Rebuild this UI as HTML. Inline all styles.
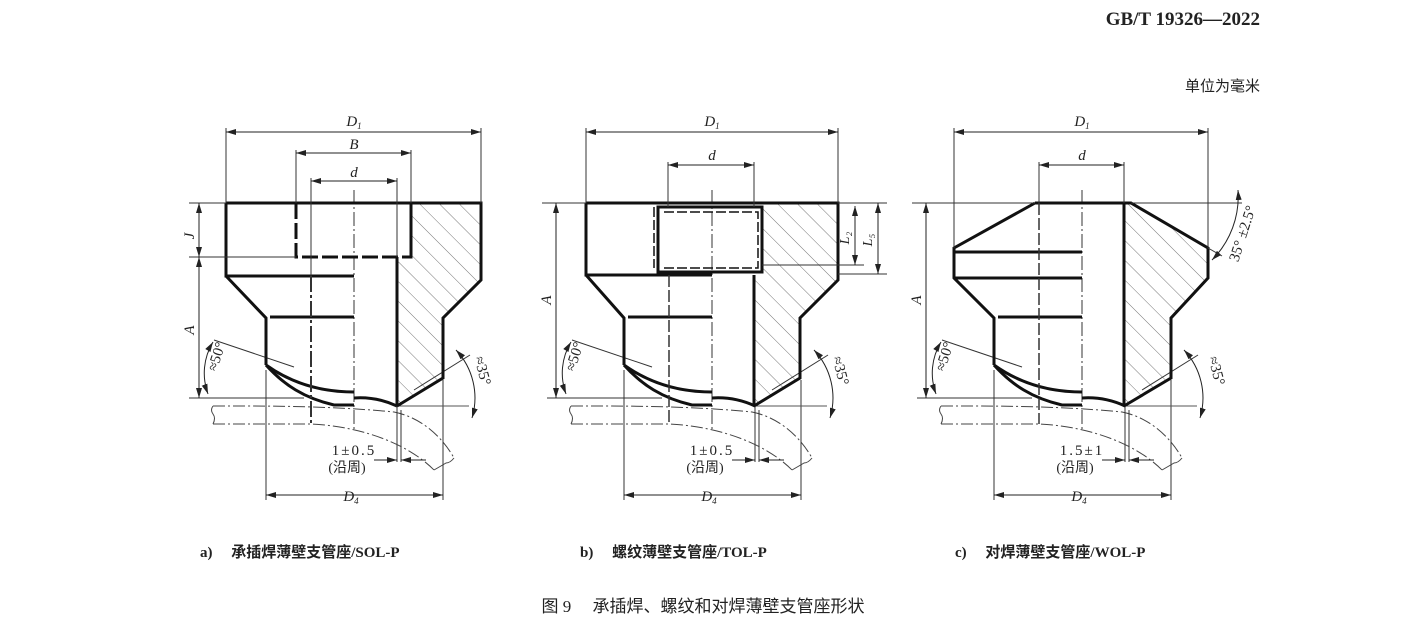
<!DOCTYPE html>
<html><head><meta charset="utf-8"><style>
body{margin:0;background:#fff;width:1407px;height:631px;overflow:hidden}
svg{display:block}
.t{font-family:"Liberation Serif","Noto Serif CJK SC",serif;fill:#222}
.c{font-family:"Liberation Serif","Noto Sans CJK SC",sans-serif;fill:#222}
</style></head><body>
<svg width="1407" height="631" viewBox="0 0 1407 631" xmlns="http://www.w3.org/2000/svg">
<defs>
<marker id="ar" viewBox="0 0 10 6" refX="10" refY="3" markerWidth="10" markerHeight="6" orient="auto-start-reverse" markerUnits="userSpaceOnUse"><path d="M0,0 L10,3 L0,6 z" fill="#222"/></marker>
<pattern id="h" width="14" height="14" patternUnits="userSpaceOnUse" patternTransform="rotate(-45)"><line x1="0" y1="0" x2="0" y2="14" stroke="#777" stroke-width="1"/></pattern>
<g id="lower">
<line x1="0" y1="190" x2="0" y2="432" stroke="#333" stroke-width="1" stroke-dasharray="14,3,2,3"/>
<path d="M-88,365 C-70,385 -50,398 -20,405 L0,405" fill="none" stroke="#111" stroke-width="3"/>
<path d="M-88,365 C-60,385 -30,392 0,392" fill="none" stroke="#111" stroke-width="3"/>
<path d="M0,398 C15,397 30,400 43,406" fill="none" stroke="#111" stroke-width="3"/>
<line x1="-84" y1="317" x2="0" y2="317" stroke="#111" stroke-width="3"/>
<path d="M-141,406 L-110,406 C-50,406 0,408 40,412 C70,418 90,440 100,458" fill="none" stroke="#444" stroke-width="1" stroke-dasharray="12,3,2,3"/>
<path d="M-141,424 L-43,424 C0,426 50,440 80,470" fill="none" stroke="#444" stroke-width="1" stroke-dasharray="12,3,2,3"/>
<path d="M-141,406 q-3,4 0,8 q3,4 0,10" fill="none" stroke="#444" stroke-width="1"/>
<path d="M100,458 q-4,5 -8,5 q-5,3 -12,7" fill="none" stroke="#444" stroke-width="1"/>
<line x1="-165" y1="398" x2="-50" y2="398" stroke="#333" stroke-width="1"/>
<line x1="-88" y1="370" x2="-88" y2="500" stroke="#333" stroke-width="1"/>
<line x1="89" y1="380" x2="89" y2="500" stroke="#333" stroke-width="1"/>
<line x1="-88" y1="495" x2="89" y2="495" stroke="#222" marker-start="url(#ar)" marker-end="url(#ar)"/>
<line x1="43" y1="406" x2="43" y2="462" stroke="#333" stroke-width="1"/>
<line x1="47" y1="410" x2="47" y2="462" stroke="#333" stroke-width="1"/>
<line x1="20" y1="460" x2="43" y2="460" stroke="#222" marker-end="url(#ar)"/>
<line x1="72" y1="460" x2="47" y2="460" stroke="#222" marker-end="url(#ar)"/>
<line x1="43" y1="406" x2="115" y2="406" stroke="#555" stroke-width="1"/>
<line x1="-60" y1="367" x2="-140" y2="340" stroke="#333" stroke-width="1"/>
<path d="M-141,342 A60,60 0 0 0 -146,394" fill="none" stroke="#222" marker-start="url(#ar)" marker-end="url(#ar)"/>
<line x1="60" y1="390" x2="116" y2="355" stroke="#333" stroke-width="1"/>
<path d="M102,350 A70,70 0 0 1 118,418" fill="none" stroke="#222" marker-start="url(#ar)" marker-end="url(#ar)"/>
<text class="t" x="-3" y="501" font-size="15" font-style="italic" text-anchor="middle">D<tspan font-size="9" dy="3">4</tspan></text>
<text class="c" x="-7" y="472" font-size="14" text-anchor="middle">(沿周)</text>
</g>
</defs>

<text class="t" x="1260" y="25" font-size="19" font-weight="bold" text-anchor="end">GB/T  19326—2022</text>
<text class="c" x="1260" y="91" font-size="15" text-anchor="end">单位为毫米</text>

<!-- Figure a -->
<g transform="translate(354,0)">
<path d="M57,203 L127,203 L127,280 L89,318 L89,378 L43,406 L43,257 L57,257 Z" fill="url(#h)"/>
<use href="#lower"/>
<path d="M-128,203 L127,203 L127,280 L89,318 L89,378 L43,406" fill="none" stroke="#111" stroke-width="3"/>
<path d="M-128,203 L-128,276 L0,276 M-128,276 L-88,318 L-88,365" fill="none" stroke="#111" stroke-width="3"/>
<path d="M-58,203 L-58,257 L57,257 L57,203" fill="none" stroke="#111" stroke-width="3" stroke-dasharray="16,4"/>
<path d="M57,203 L57,257" stroke="#111" stroke-width="3"/>
<line x1="43" y1="257" x2="43" y2="406" stroke="#111" stroke-width="3"/>
<line x1="-43" y1="276" x2="-43" y2="424" stroke="#333" stroke-width="2" stroke-dasharray="16,3,3,3"/>
<line x1="-128" y1="128" x2="-128" y2="203" stroke="#333"/><line x1="127" y1="128" x2="127" y2="203" stroke="#333"/>
<line x1="-128" y1="132" x2="127" y2="132" stroke="#222" marker-start="url(#ar)" marker-end="url(#ar)"/>
<line x1="-58" y1="150" x2="-58" y2="203" stroke="#333"/><line x1="57" y1="150" x2="57" y2="203" stroke="#333"/>
<line x1="-58" y1="153" x2="57" y2="153" stroke="#222" marker-start="url(#ar)" marker-end="url(#ar)"/>
<line x1="-43" y1="178" x2="-43" y2="276" stroke="#333"/><line x1="43" y1="178" x2="43" y2="257" stroke="#333"/>
<line x1="-43" y1="181" x2="43" y2="181" stroke="#222" marker-start="url(#ar)" marker-end="url(#ar)"/>
<text class="t" x="0" y="126" font-size="15" font-style="italic" text-anchor="middle">D<tspan font-size="9" dy="3">1</tspan></text>
<text class="t" x="0" y="149" font-size="15" font-style="italic" text-anchor="middle">B</text>
<text class="t" x="0" y="177" font-size="15" font-style="italic" text-anchor="middle">d</text>
<line x1="-165" y1="203" x2="-128" y2="203" stroke="#333"/><line x1="-165" y1="257" x2="-58" y2="257" stroke="#333"/>
<line x1="-155" y1="203" x2="-155" y2="257" stroke="#222" marker-start="url(#ar)" marker-end="url(#ar)"/>
<line x1="-155" y1="257" x2="-155" y2="398" stroke="#222" marker-start="url(#ar)" marker-end="url(#ar)"/>
<text class="t" font-size="15" font-style="italic" transform="translate(-160,236) rotate(-90)" text-anchor="middle">J</text>
<text class="t" font-size="15" font-style="italic" transform="translate(-160,330) rotate(-90)" text-anchor="middle">A</text>
<text class="t" font-size="15" transform="translate(-133,358) rotate(-72)" text-anchor="middle">≈50°</text>
<text class="t" font-size="15" transform="translate(124,372) rotate(75)" text-anchor="middle">≈35°</text>
<text class="t" x="0" y="455" font-size="15" letter-spacing="2" text-anchor="middle">1±0.5</text>
</g>

<!-- Figure b -->
<g transform="translate(712,0)">
<path d="M50,203 L126,203 L126,280 L88,318 L88,378 L42,406 L42,275 L50,275 Z" fill="url(#h)"/>
<use href="#lower"/>
<path d="M-126,203 L126,203 L126,280 L88,318 L88,378 L42,406" fill="none" stroke="#111" stroke-width="3"/>
<path d="M-126,203 L-126,275 L0,275 M-126,275 L-88,318 L-88,365" fill="none" stroke="#111" stroke-width="3"/>
<path d="M-54,207 L50,207 L50,272 L-54,272 Z" fill="none" stroke="#111" stroke-width="3"/>
<path d="M-58,207 L-58,268 M-48,212 L46,212 L46,268 L-48,268" fill="none" stroke="#111" stroke-width="1.5" stroke-dasharray="10,3"/>
<line x1="42" y1="275" x2="42" y2="406" stroke="#111" stroke-width="3"/>
<line x1="-43" y1="275" x2="-43" y2="424" stroke="#333" stroke-width="1.5" stroke-dasharray="12,3"/>
<line x1="-126" y1="128" x2="-126" y2="203" stroke="#333"/><line x1="126" y1="128" x2="126" y2="203" stroke="#333"/>
<line x1="-126" y1="132" x2="126" y2="132" stroke="#222" marker-start="url(#ar)" marker-end="url(#ar)"/>
<line x1="-44" y1="162" x2="-44" y2="207" stroke="#333"/><line x1="42" y1="162" x2="42" y2="207" stroke="#333"/>
<line x1="-44" y1="165" x2="42" y2="165" stroke="#222" marker-start="url(#ar)" marker-end="url(#ar)"/>
<text class="t" x="0" y="126" font-size="15" font-style="italic" text-anchor="middle">D<tspan font-size="9" dy="3">1</tspan></text>
<text class="t" x="0" y="160" font-size="15" font-style="italic" text-anchor="middle">d</text>
<line x1="126" y1="203" x2="175" y2="203" stroke="#333"/>
<line x1="50" y1="265" x2="152" y2="265" stroke="#333"/><line x1="126" y1="274" x2="175" y2="274" stroke="#333"/>
<line x1="143" y1="206" x2="143" y2="265" stroke="#222" marker-start="url(#ar)" marker-end="url(#ar)"/>
<line x1="166" y1="203" x2="166" y2="274" stroke="#222" marker-start="url(#ar)" marker-end="url(#ar)"/>
<text class="t" font-size="14" font-style="italic" transform="translate(137,238) rotate(-90)" text-anchor="middle">L₂</text>
<text class="t" font-size="14" font-style="italic" transform="translate(160,240) rotate(-90)" text-anchor="middle">L₅</text>
<line x1="-170" y1="203" x2="-126" y2="203" stroke="#333"/>
<line x1="-156" y1="203" x2="-156" y2="398" stroke="#222" marker-start="url(#ar)" marker-end="url(#ar)"/>
<text class="t" font-size="15" font-style="italic" transform="translate(-161,300) rotate(-90)" text-anchor="middle">A</text>
<text class="t" font-size="15" transform="translate(-133,358) rotate(-72)" text-anchor="middle">≈50°</text>
<text class="t" font-size="15" transform="translate(124,372) rotate(75)" text-anchor="middle">≈35°</text>
<text class="t" x="0" y="455" font-size="15" letter-spacing="2" text-anchor="middle">1±0.5</text>
</g>

<!-- Figure c -->
<g transform="translate(1082,0)">
<path d="M42,203 L49,203 L126,248 L126,278 L89,318 L89,378 L42,406 Z" fill="url(#h)"/>
<use href="#lower"/>
<path d="M-47,203 L49,203 L126,248 L126,278 L89,318 L89,378 L42,406" fill="none" stroke="#111" stroke-width="3"/>
<path d="M-47,203 L-128,248 L-128,278 L-88,318 L-88,365 M-128,252 L0,252 M-128,278 L0,278" fill="none" stroke="#111" stroke-width="3"/>
<line x1="42" y1="203" x2="42" y2="406" stroke="#111" stroke-width="3"/>
<line x1="-43" y1="203" x2="-43" y2="424" stroke="#333" stroke-width="1.5" stroke-dasharray="12,3"/>
<line x1="-128" y1="128" x2="-128" y2="248" stroke="#333"/><line x1="126" y1="128" x2="126" y2="248" stroke="#333"/>
<line x1="-128" y1="132" x2="126" y2="132" stroke="#222" marker-start="url(#ar)" marker-end="url(#ar)"/>
<line x1="-43" y1="162" x2="-43" y2="203" stroke="#333"/><line x1="42" y1="162" x2="42" y2="203" stroke="#333"/>
<line x1="-43" y1="165" x2="42" y2="165" stroke="#222" marker-start="url(#ar)" marker-end="url(#ar)"/>
<text class="t" x="0" y="126" font-size="15" font-style="italic" text-anchor="middle">D<tspan font-size="9" dy="3">1</tspan></text>
<text class="t" x="0" y="160" font-size="15" font-style="italic" text-anchor="middle">d</text>
<line x1="-170" y1="203" x2="-47" y2="203" stroke="#333"/>
<line x1="49" y1="203" x2="160" y2="203" stroke="#333"/>
<line x1="126" y1="248" x2="140" y2="256" stroke="#333"/>
<path d="M156,190 A90,90 0 0 1 130,260" fill="none" stroke="#222" marker-start="url(#ar)" marker-end="url(#ar)"/>
<text class="t" font-size="15" transform="translate(165,235) rotate(-72)" text-anchor="middle">35° ±2.5°</text>
<line x1="-156" y1="203" x2="-156" y2="398" stroke="#222" marker-start="url(#ar)" marker-end="url(#ar)"/>
<text class="t" font-size="15" font-style="italic" transform="translate(-161,300) rotate(-90)" text-anchor="middle">A</text>
<text class="t" font-size="15" transform="translate(-133,358) rotate(-72)" text-anchor="middle">≈50°</text>
<text class="t" font-size="15" transform="translate(130,372) rotate(75)" text-anchor="middle">≈35°</text>
<text class="t" x="0" y="455" font-size="15" letter-spacing="2" text-anchor="middle">1.5±1</text>
</g>

<text class="c" x="200" y="557" font-size="15" font-weight="600">a)　 承插焊薄壁支管座/SOL-P</text>
<text class="c" x="580" y="557" font-size="15" font-weight="600">b)　 螺纹薄壁支管座/TOL-P</text>
<text class="c" x="955" y="557" font-size="15" font-weight="600">c)　 对焊薄壁支管座/WOL-P</text>
<text class="c" x="703" y="612" font-size="17" text-anchor="middle">图 9　 承插焊、螺纹和对焊薄壁支管座形状</text>
</svg>
</body></html>
